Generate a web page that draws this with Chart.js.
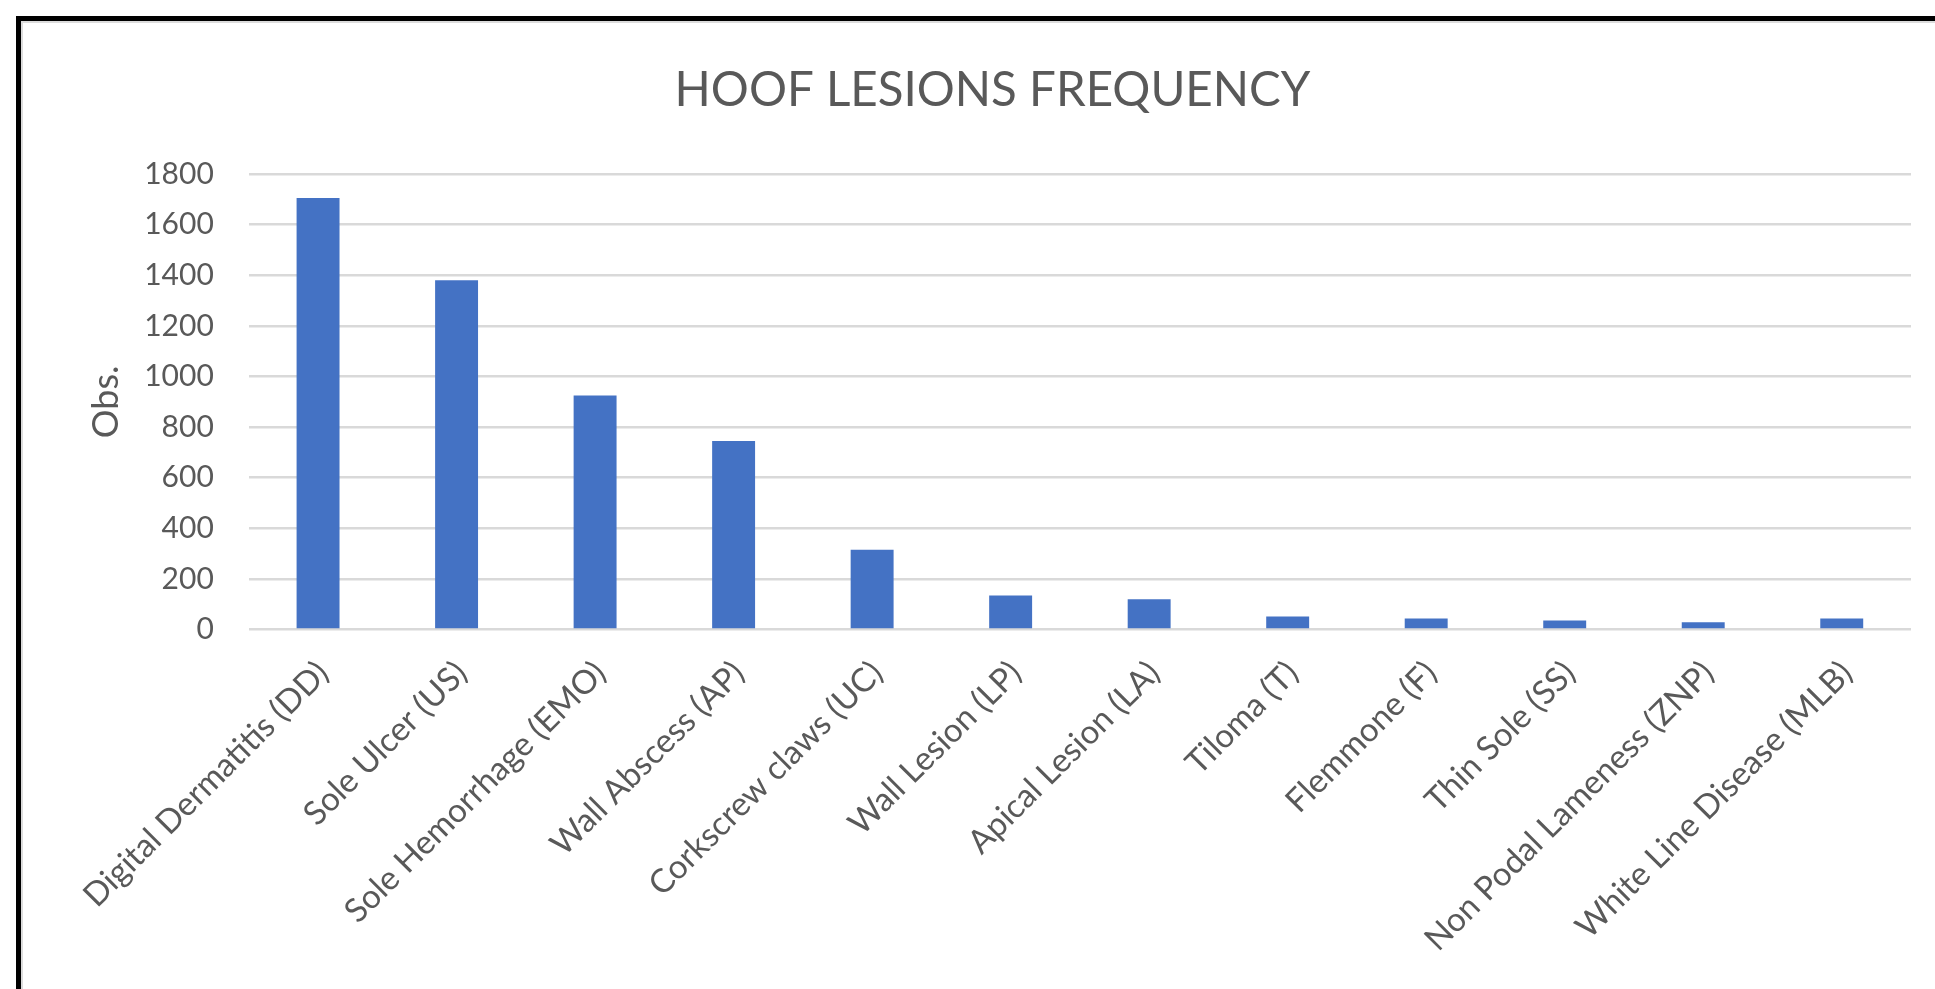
<!DOCTYPE html>
<html>
<head>
<meta charset="utf-8">
<title>Hoof Lesions Frequency</title>
<script src="https://cdn.jsdelivr.net/npm/chart.js@4.4.1/dist/chart.umd.min.js"></script>
<style>
    html, body { margin: 0; padding: 0; background: #fff; overflow: hidden; }
    .frame {
        position: absolute; left: 16px; top: 16px; width: 2000px; height: 1000px;
        border-top: 5px solid #000; border-left: 5px solid #000;
        box-shadow: inset 2px 2px 0 #dcdcdc;
    }
    .chart-box { position: absolute; left: 22px; top: 22px; width: 1942px; height: 967px; }
</style>
</head>
<body>
<div class="frame"></div>
<div class="chart-box"><canvas id="hoofChart"></canvas></div>
<script>
// --- Data ---
const lesionLabels = [
    'Digital Dermatitis (DD)', 'Sole Ulcer (US)', 'Sole Hemorrhage (EMO)', 'Wall Abscess (AP)',
    'Corkscrew claws (UC)', 'Wall Lesion (LP)', 'Apical Lesion (LA)', 'Tiloma (T)',
    'Flemmone (F)', 'Thin Sole (SS)', 'Non Podal Lameness (ZNP)', 'White Line Disease (MLB)'
];
const lesionCounts = [1705, 1380, 925, 745, 315, 135, 120, 52, 44, 36, 29, 44];
const yTicks = [0, 200, 400, 600, 800, 1000, 1200, 1400, 1600, 1800];

const FONT = 'Lato, "Open Sans", sans-serif';
const GREY = '#595959';

document.addEventListener('DOMContentLoaded', () => {
    const ctx = document.getElementById('hoofChart').getContext('2d');
    new Chart(ctx, {
        type: 'bar',
        data: {
            labels: lesionLabels,
            datasets: [{
                label: 'Obs.',
                data: lesionCounts,
                backgroundColor: '#4472C4',
                borderWidth: 0,
                categoryPercentage: 1,
                barPercentage: 0.31
            }]
        },
        options: {
            responsive: true,
            maintainAspectRatio: false,
            animation: false,
            layout: { padding: { left: 52, right: 53, top: 0, bottom: 14 } },
            plugins: {
                legend: { display: false },
                tooltip: { enabled: false },
                title: {
                    display: true,
                    text: 'HOOF LESIONS FREQUENCY',
                    color: GREY,
                    font: { family: FONT, size: 47.5, weight: 'normal' },
                    padding: { top: 40, bottom: 55 }
                }
            },
            scales: {
                x: {
                    // long rotated labels may hang out to the left, don't reserve room for them
                    afterFit: scale => { scale.paddingLeft = 0; },
                    grid: { display: false },
                    border: { display: false },
                    ticks: {
                        color: GREY,
                        font: { family: FONT, size: 33 },
                        minRotation: 45,
                        maxRotation: 45,
                        autoSkip: false,
                        padding: 16,
                        labelOffset: 5
                    }
                },
                y: {
                    min: 0,
                    max: 1800,
                    afterBuildTicks: axis => { axis.ticks = yTicks.map(v => ({ value: v })); },
                    grid: { color: '#d9d9d9', lineWidth: 2.5, drawTicks: false },
                    border: { display: false },
                    ticks: {
                        color: GREY,
                        font: { family: FONT, size: 30 },
                        padding: 35,
                        callback: v => String(v)
                    },
                    title: {
                        display: true,
                        text: 'Obs.',
                        color: GREY,
                        font: { family: FONT, size: 36 },
                        // tick padding is counted on both sides of the labels, win it back here
                        padding: { top: 11, bottom: -19 }
                    }
                }
            }
        }
    });
});
</script>
</body>
</html>
